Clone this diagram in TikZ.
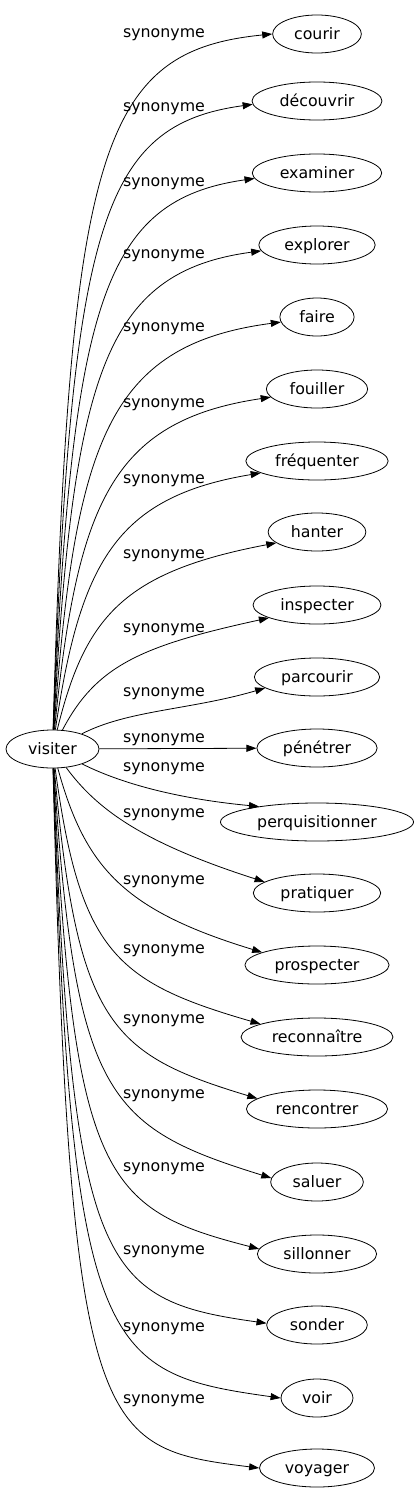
\documentclass[tikz,border=0pt]{standalone}
\usepackage{fontspec}
\setmainfont{DejaVu Sans}
\usetikzlibrary{arrows.meta,shapes.geometric}
\tikzset{
	mot/.style={draw, ellipse, line width=0.8pt, inner xsep=8.5pt, inner ysep=1pt, minimum height=38pt, minimum width=72pt, text height=13.5pt, text depth=2.5pt, font=\fontsize{15.8}{19}\selectfont},
	syn/.style={anchor=base, inner sep=0pt, font=\fontsize{15.8}{19}\selectfont},
	lien/.style={line width=0.8pt, -{Triangle[length=10pt,width=7pt]}}
}

\begin{document}
\begin{tikzpicture}[x=1pt,y=-1pt]
		\useasboundingbox (0,0) rectangle (415,1499);
		%%%%% NODES %%%%%
		\node[mot] (visiter) at (52.5,749) {visiter};
		
		\node[mot] (courir) at (317,34) {courir};
		\node[mot] (decouvrir) at (317,101) {découvrir};
		\node[mot] (examiner) at (317,173) {examiner};
		\node[mot] (explorer) at (317,245) {explorer};
		\node[mot] (faire) at (317,317) {faire};
		\node[mot] (fouiller) at (317,389) {fouiller};
		\node[mot] (frequenter) at (317,461) {fréquenter};
		\node[mot] (hanter) at (317,532) {hanter};
		\node[mot] (inspecter) at (317,605) {inspecter};
		\node[mot] (parcourir) at (317,677) {parcourir};
		\node[mot] (penetrer) at (317,748) {pénétrer};
		\node[mot] (perquisitionner) at (317,822) {perquisitionner};
		\node[mot] (pratiquer) at (317,893) {pratiquer};
		\node[mot] (prospecter) at (317,965) {prospecter};
		\node[mot] (reconnaitre) at (317,1037) {reconnaître};
		\node[mot] (rencontrer) at (317,1109) {rencontrer};
		\node[mot] (saluer) at (317,1182) {saluer};
		\node[mot] (sillonner) at (317,1254) {sillonner};
		\node[mot] (sonder) at (317,1325) {sonder};
		\node[mot] (voir) at (317,1398) {voir};
		\node[mot] (voyager) at (317,1468) {voyager};
		
		%%%%% LABELS %%%%%
		\node[syn] (s-courir) at (164,37) {synonyme};
		\node[syn] (s-decouvrir) at (164,111) {synonyme};
		\node[syn] (s-examiner) at (164,186) {synonyme};
		\node[syn] (s-explorer) at (164,258) {synonyme};
		\node[syn] (s-faire) at (164,331) {synonyme};
		\node[syn] (s-fouiller) at (164,407) {synonyme};
		\node[syn] (s-frequenter) at (164,483) {synonyme};
		\node[syn] (s-hanter) at (164,558) {synonyme};
		\node[syn] (s-inspecter) at (164,632) {synonyme};
		\node[syn] (s-parcourir) at (164,696) {synonyme};
		\node[syn] (s-penetrer) at (164,742) {synonyme};
		\node[syn] (s-perquisitionner) at (164,771) {synonyme};
		\node[syn] (s-pratiquer) at (164,817) {synonyme};
		\node[syn] (s-prospecter) at (164,884) {synonyme};
		\node[syn] (s-reconnaitre) at (164,953) {synonyme};
		\node[syn] (s-rencontrer) at (164,1023) {synonyme};
		\node[syn] (s-saluer) at (164,1098) {synonyme};
		\node[syn] (s-sillonner) at (164,1171) {synonyme};
		\node[syn] (s-sonder) at (164,1254) {synonyme};
		\node[syn] (s-voir) at (164,1331) {synonyme};
		\node[syn] (s-voyager) at (164,1403) {synonyme};
		
		%%%%% EDGES %%%%%
		\draw[lien] (visiter) .. controls (70,149) and (100,51) .. (courir.180);
		\draw[lien] (visiter) .. controls (71,225) and (101,125) .. (decouvrir.183);
		\draw[lien] (visiter) .. controls (72,302) and (103,200) .. (examiner.185);
		\draw[lien] (visiter) .. controls (73,375) and (104,272) .. (explorer.186);
		\draw[lien] (visiter) .. controls (75,443) and (107,345) .. (faire.188);
		\draw[lien] (visiter) .. controls (77,506) and (110,421) .. (fouiller.190);
		\draw[lien] (visiter) .. controls (80,564) and (115,497) .. (frequenter.192);
		\draw[lien] (visiter) .. controls (85,617) and (123,572) .. (hanter.195);
		\draw[lien] (visiter) .. controls (96,666) and (140,646) .. (inspecter.195);
		\draw[lien] (visiter) .. controls (128,710) and (190,710) .. (parcourir.192);
		\draw[lien] (visiter) -- (penetrer);
		\draw[lien] (visiter) .. controls (128,787) and (190,800) .. (perquisitionner.165);
		\draw[lien] (visiter) .. controls (96,808) and (140,842) .. (pratiquer.168);
		\draw[lien] (visiter) .. controls (85,867) and (123,910) .. (prospecter.167);
		\draw[lien] (visiter) .. controls (80,951) and (115,982) .. (reconnaitre.167);
		\draw[lien] (visiter) .. controls (77,1024) and (110,1054) .. (rencontrer.170);
		\draw[lien] (visiter) .. controls (75,1097) and (107,1127) .. (saluer.175);
		\draw[lien] (visiter) .. controls (73,1180) and (104,1209) .. (sillonner.175);
		\draw[lien] (visiter) .. controls (72,1270) and (100,1300) .. (sonder.178);
		\draw[lien] (visiter) .. controls (71,1353) and (101,1373) .. (voir.180);
		\draw[lien] (visiter) .. controls (70,1440) and (98,1448) .. (voyager.180);
		%%%%% END %%%%%
\end{tikzpicture}
\end{document}
